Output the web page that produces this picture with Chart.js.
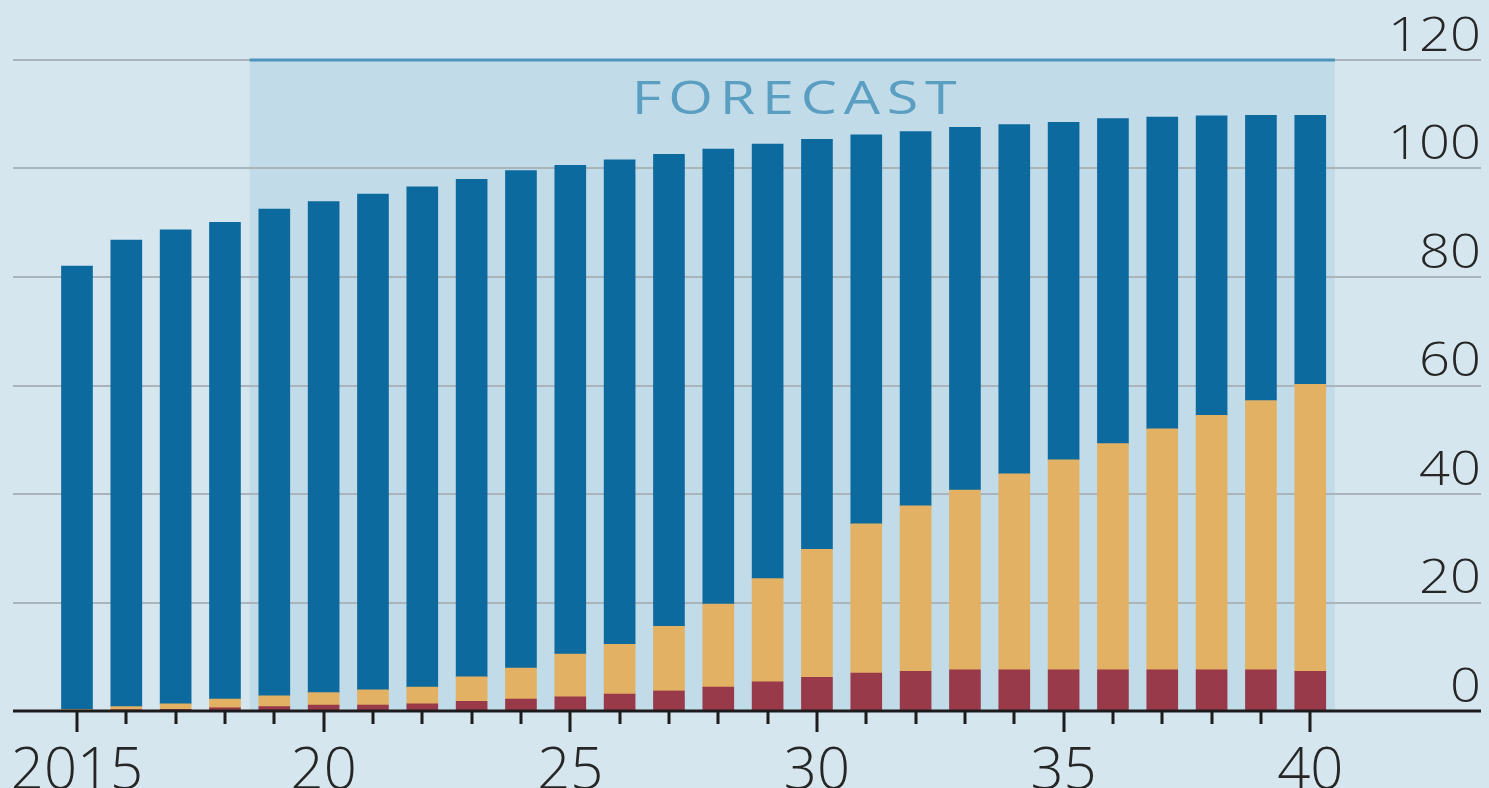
<!DOCTYPE html>
<html>
<head>
<meta charset="utf-8">
<script src="https://cdn.jsdelivr.net/npm/chart.js@4.4.1/dist/chart.umd.min.js"></script>
<style>
  html, body { margin: 0; padding: 0; background: #d5e6ef; overflow: hidden; }
  #wrap { width: 1489px; height: 788px; }
</style>
</head>
<body>
<div id="wrap"><canvas id="chart" width="1489" height="788"></canvas></div>
<script>
// Years shown on the horizontal axis
const years = [2015, 2016, 2017, 2018, 2019, 2020, 2021, 2022, 2023, 2024, 2025, 2026, 2027,
               2028, 2029, 2030, 2031, 2032, 2033, 2034, 2035, 2036, 2037, 2038, 2039, 2040];

// Stacked segments, bottom to top
const redValues    = [0.1, 0.2, 0.3, 0.6, 0.8, 1.1, 1.1, 1.3, 1.8, 2.2, 2.6, 3.1, 3.7,
                      4.4, 5.4, 6.2, 7.0, 7.3, 7.6, 7.6, 7.6, 7.6, 7.6, 7.6, 7.6, 7.3];
const orangeValues = [0.2, 0.6, 1.0, 1.6, 2.0, 2.3, 2.8, 3.1, 4.5, 5.7, 7.9, 9.2, 11.9,
                      15.3, 19.0, 23.6, 27.5, 30.5, 33.1, 36.1, 38.7, 41.7, 44.4, 46.9, 49.6, 52.9];
const blueValues   = [81.7, 86.0, 87.4, 87.9, 89.7, 90.5, 91.4, 92.2, 91.7, 91.7, 90.1, 89.3, 87.0,
                      83.9, 80.1, 75.6, 71.7, 69.0, 66.9, 64.4, 62.2, 59.9, 57.5, 55.2, 52.6, 49.6];

// Axis labelling
const yTicks = [0, 20, 40, 60, 80, 100, 120];
const xMajorYears = [2015, 2020, 2025, 2030, 2035, 2040];
const xMajorLabels = ['2015', '20', '25', '30', '35', '40'];

// Forecast period
const forecastStart = 2018.5;
const forecastEnd = 2040.5;
const forecastLabel = 'FORECAST';

const COLORS = {
  bg: '#d5e6ef',
  shade: '#c2dbe8',
  shadeLine: '#4d95bf',
  grid: '#a9b4bb',
  axis: '#1c1c1c',
  text: '#262626',
  forecastText: '#5a9fc2',
  blue: '#0d6a9f',
  orange: '#e2b164',
  red: '#993a4b'
};

const toPoints = arr => arr.map((v, i) => ({ x: years[i], y: v }));

// Draws text stretched horizontally, anchored by textAlign at (x, y)
function stretchedText(ctx, text, x, y, sx) {
  ctx.save();
  ctx.translate(x, y);
  ctx.scale(sx, 1);
  ctx.fillText(text, 0, 0);
  ctx.restore();
}

const decorations = {
  id: 'decorations',
  beforeDatasetsDraw(chart) {
    const { ctx, scales: { x, y } } = chart;
    const left = chart.chartArea.left, right = chart.chartArea.right;

    // forecast shading
    const fx0 = x.getPixelForValue(forecastStart);
    const fx1 = x.getPixelForValue(forecastEnd);
    const top = y.getPixelForValue(120);
    const bottom = y.getPixelForValue(0);
    ctx.save();
    ctx.fillStyle = COLORS.shade;
    ctx.fillRect(fx0, top, fx1 - fx0, bottom - top);

    // horizontal gridlines
    ctx.strokeStyle = COLORS.grid;
    ctx.lineWidth = 2;
    yTicks.forEach(v => {
      if (v === 0) return;
      const py = Math.round(y.getPixelForValue(v));
      ctx.beginPath();
      ctx.moveTo(left, py);
      ctx.lineTo(right, py);
      ctx.stroke();
    });

    // forecast top rule
    ctx.strokeStyle = COLORS.shadeLine;
    ctx.lineWidth = 3;
    ctx.beginPath();
    ctx.moveTo(fx0, top);
    ctx.lineTo(fx1, top);
    ctx.stroke();

    // forecast caption, letter-spaced
    const sx = 1.25;
    ctx.font = '400 46px "Open Sans"';
    ctx.fillStyle = COLORS.forecastText;
    ctx.textBaseline = 'alphabetic';
    ctx.textAlign = 'left';
    const plain = ctx.measureText(forecastLabel).width * sx;
    const targetWidth = 325;
    const spacing = (targetWidth - plain) / (forecastLabel.length - 1);
    let cx = (fx0 + fx1) / 2 - targetWidth / 2 + 2;
    for (const ch of forecastLabel) {
      stretchedText(ctx, ch, cx, 114, sx);
      cx += ctx.measureText(ch).width * sx + spacing;
    }

    // value labels on the right, sitting above each gridline
    ctx.font = '300 48px "Open Sans"';
    ctx.fillStyle = COLORS.text;
    ctx.textAlign = 'right';
    yTicks.forEach(v => {
      const py = y.getPixelForValue(v);
      stretchedText(ctx, String(v), right, py - 9.5, 1.13);
    });
    ctx.restore();
  },
  afterDatasetsDraw(chart) {
    const { ctx, scales: { x, y } } = chart;
    const left = chart.chartArea.left, right = chart.chartArea.right;
    const py = Math.round(y.getPixelForValue(0));
    ctx.save();
    ctx.strokeStyle = COLORS.axis;
    ctx.lineWidth = 3;
    ctx.beginPath();
    ctx.moveTo(left, py);
    ctx.lineTo(right, py);
    ctx.stroke();

    // year ticks, longer every fifth year
    years.forEach(yr => {
      const px = Math.round(x.getPixelForValue(yr));
      const major = xMajorYears.includes(yr);
      ctx.beginPath();
      ctx.moveTo(px, py);
      ctx.lineTo(px, py + (major ? 21 : 13));
      ctx.stroke();
    });

    ctx.font = '300 58px "Open Sans"';
    ctx.fillStyle = COLORS.text;
    ctx.textAlign = 'center';
    ctx.textBaseline = 'alphabetic';
    xMajorYears.forEach((yr, i) => {
      ctx.fillText(xMajorLabels[i], x.getPixelForValue(yr), 789);
    });
    ctx.restore();
  }
};

const background = {
  id: 'background',
  beforeDraw(chart) {
    const { ctx, width, height } = chart;
    ctx.save();
    ctx.fillStyle = COLORS.bg;
    ctx.fillRect(0, 0, width, height);
    ctx.restore();
  }
};

new Chart(document.getElementById('chart'), {
  type: 'bar',
  data: {
    datasets: [
      { label: 'Red', data: toPoints(redValues), backgroundColor: COLORS.red },
      { label: 'Orange', data: toPoints(orangeValues), backgroundColor: COLORS.orange },
      { label: 'Blue', data: toPoints(blueValues), backgroundColor: COLORS.blue }
    ]
  },
  options: {
    responsive: false,
    animation: false,
    devicePixelRatio: 1,
    layout: { padding: { left: 13, right: 8, top: 60, bottom: 77 } },
    datasets: { bar: { barThickness: 31, borderWidth: 0 } },
    plugins: { legend: { display: false }, tooltip: { enabled: false }, title: { display: false } },
    scales: {
      x: { type: 'linear', stacked: true, display: false, offset: false, min: 2013.703, max: 2043.461 },
      y: { stacked: true, display: false, min: 0, max: 120 }
    }
  },
  plugins: [background, decorations]
});
</script>
</body>
</html>
